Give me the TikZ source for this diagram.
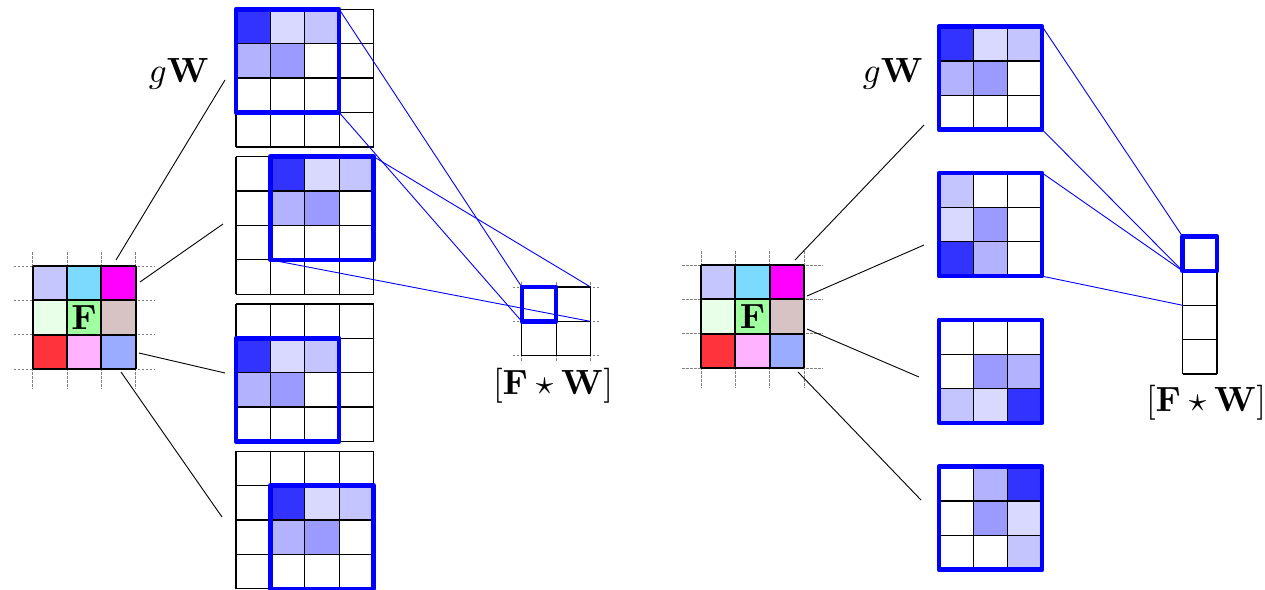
\documentclass[tikz,border=0pt]{standalone}
\usepackage{amsmath}

% shades of the filter W
\definecolor{wA}{RGB}{51,51,255}
\definecolor{wB}{RGB}{217,217,255}
\definecolor{wC}{RGB}{196,196,255}
\definecolor{wD}{RGB}{178,178,255}
\definecolor{wE}{RGB}{155,155,255}
% colours of the feature map F
\definecolor{fA}{RGB}{198,198,255}
\definecolor{fB}{RGB}{125,218,255}
\definecolor{fC}{RGB}{255,0,255}
\definecolor{fD}{RGB}{232,255,232}
\definecolor{fE}{RGB}{160,255,160}
\definecolor{fF}{RGB}{215,195,195}
\definecolor{fG}{RGB}{255,51,60}
\definecolor{fH}{RGB}{255,178,255}
\definecolor{fI}{RGB}{153,172,255}

\tikzset{
  gridline/.style={black, line width=1.3pt},
  fgridline/.style={black, line width=2pt},
  guide/.style={gray, line width=0.8pt, dash pattern=on 2.5pt off 1.5pt},
  frame/.style={blue, line width=4.5pt, line join=round},
  proj/.style={blue, line width=0.9pt},
  link/.style={black, line width=0.9pt},
  lbl/.style={scale=3.5, inner sep=0pt},
}

\def\cs{34.4}

% lines of a #3 x #4 grid with top-left corner (#1,#2)
\newcommand\cellgrid[5]{%
  \foreach \i in {0,...,#3} \draw[#5] ({#1+\i*\cs},#2) -- ++(0,{#4*\cs});
  \foreach \j in {0,...,#4} \draw[#5] (#1,{#2+\j*\cs}) -- ++({#3*\cs},0);
}

\begin{document}
\begin{tikzpicture}[x=1pt,y=-1pt]
\useasboundingbox (0,0) rectangle (1265,589);

% ---------------- feature maps F (left and right) ----------------
\foreach \fx/\fy in {32.5/266, 701/265} {
  \foreach \i in {0,...,3} {
    \draw[guide] ({\fx+\i*\cs},{\fy-14}) -- ({\fx+\i*\cs},{\fy+3*\cs+20});
    \draw[guide] ({\fx-19},{\fy+\i*\cs}) -- ({\fx+3*\cs+19},{\fy+\i*\cs});
  }
  \foreach \cc/\rr/\col in {0/0/fA,1/0/fB,2/0/fC,0/1/fD,1/1/fE,2/1/fF,0/2/fG,1/2/fH,2/2/fI}
    \fill[\col] ({\fx+\cc*\cs},{\fy+\rr*\cs}) rectangle ++(\cs,\cs);
  \cellgrid{\fx}{\fy}{3}{3}{fgridline}
}
\node[lbl] (FL) at (84,317) {$\mathbf{F}$};
\node[lbl] (FR) at (752.6,316) {$\mathbf{F}$};

% ---------------- left: W shifted over a 4x4 grid ----------------
\foreach \k/\ox/\oy in {0/0/0,1/1/0,2/0/1,3/1/1} {
  \pgfmathsetmacro\gy{9.3+147.3*\k}
  \foreach \cc/\rr/\col in {0/0/wA,1/0/wB,2/0/wC,0/1/wD,1/1/wE}
    \fill[\col] ({236+(\ox+\cc)*\cs},{\gy+(\oy+\rr)*\cs}) rectangle ++(\cs,\cs);
  \cellgrid{236}{\gy}{4}{4}{gridline}
}

% output grid [F*W] on the left
\foreach \i in {0,1,2} {
  \draw[guide] ({521.8+\i*\cs},282) -- ({521.8+\i*\cs},{287+2*\cs+6});
  \draw[guide] (512.5,{287+\i*\cs}) -- ({521.8+2*\cs+9},{287+\i*\cs});
}
\cellgrid{521.8}{287}{2}{2}{gridline}

% ---------------- right: rotated copies of W ----------------
\foreach \gy/\cells in {
    26.5/{0/0/wA,1/0/wB,2/0/wC,0/1/wD,1/1/wE},
    173/{0/0/wC,0/1/wB,1/1/wE,0/2/wA,1/2/wD},
    319.8/{1/1/wE,2/1/wD,0/2/wC,1/2/wB,2/2/wA},
    466.5/{1/0/wD,2/0/wA,1/1/wE,2/1/wB,2/2/wC}} {
  \foreach \cc/\rr/\col in \cells
    \fill[\col] ({939+\cc*\cs},{\gy+\rr*\cs}) rectangle ++(\cs,\cs);
  \cellgrid{939}{\gy}{3}{3}{gridline}
}

% output column [F*W] on the right
\cellgrid{1182.6}{236.5}{1}{4}{gridline}

% ---------------- named corners ----------------
\coordinate (a1tr) at (339.2,9.3);
\coordinate (a1br) at (339.2,112.5);
\coordinate (a2tr) at (373.6,156.6);
\coordinate (a2bl) at (270.4,259.8);
\coordinate (oLtl) at (521.8,287);
\coordinate (oLbl) at (521.8,321.4);
\coordinate (oLtr) at (590.6,287);
\coordinate (oLmr) at (590.6,321.4);

\coordinate (b1tr) at (1042.2,26.5);
\coordinate (b1br) at (1042.2,129.7);
\coordinate (b2tr) at (1042.2,173);
\coordinate (b2br) at (1042.2,276.2);
\coordinate (oRtl) at (1182.6,236.5);
\coordinate (oRbl) at (1182.6,270.9);
\coordinate (oRnx) at (1182.6,305.3);

% projection lines from a window to its output cell
\draw[proj] (a1tr) -- (oLtl);
\draw[proj] (a1br) -- (oLbl);
\draw[proj] (a2tr) -- (oLtr);
\draw[proj] (a2bl) -- (oLmr);
\draw[proj] (b1tr) -- (oRtl);
\draw[proj] (b1br) -- (oRbl);
\draw[proj] (b2tr) -- (oRbl);
\draw[proj] (b2br) -- (oRnx);

% windows of W
\draw[frame] (236,9.3) rectangle ++({3*\cs},{3*\cs});
\draw[frame] (270.4,156.6) rectangle ++({3*\cs},{3*\cs});
\draw[frame] (236,{303.9+\cs}) rectangle ++({3*\cs},{3*\cs});
\draw[frame] (270.4,{451.2+\cs}) rectangle ++({3*\cs},{3*\cs});
\foreach \gy in {26.5,173,319.8,466.5}
  \draw[frame] (939,\gy) rectangle ++({3*\cs},{3*\cs});
\draw[frame] (oLtl) rectangle ++(\cs,\cs);
\draw[frame] (oRtl) rectangle ++(\cs,\cs);

% links from F to the transformed filters
\coordinate (l1s) at (116,260);   \coordinate (l1e) at (225,80);
\coordinate (l2s) at (140,282);   \coordinate (l2e) at (223,224);
\coordinate (l3s) at (139,353);   \coordinate (l3e) at (225,373);
\coordinate (l4s) at (121,372);   \coordinate (l4e) at (222,517);
\coordinate (r1s) at (795,260);   \coordinate (r1e) at (924,125);
\coordinate (r2s) at (807,296);   \coordinate (r2e) at (924,245);
\coordinate (r3s) at (807,329);   \coordinate (r3e) at (919,377);
\coordinate (r4s) at (798,372);   \coordinate (r4e) at (921,500);
\foreach \p in {l1,l2,l3,l4,r1,r2,r3,r4}
  \draw[link] (\p s) -- (\p e);

% labels
\node[lbl, anchor=base] (gwL) at (179,82) {$g\mathbf{W}$};
\node[lbl, anchor=base] (gwR) at (893,82) {$g\mathbf{W}$};
\node[lbl, anchor=base] (outL) at (553,394) {$[\mathbf{F}\star\mathbf{W}]$};
\node[lbl, anchor=base] (outR) at (1206,411) {$[\mathbf{F}\star\mathbf{W}]$};
\end{tikzpicture}
\end{document}
